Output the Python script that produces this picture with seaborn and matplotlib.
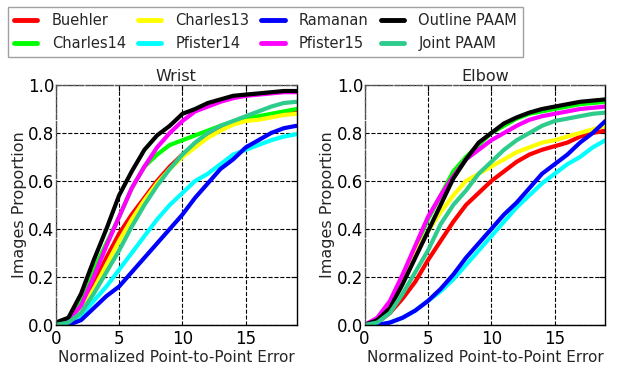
import numpy as np
import pandas as pd
import matplotlib
matplotlib.use("Agg")
import matplotlib.pyplot as plt
import seaborn as sns

# error thresholds (normalized point-to-point error)
error = list(range(20))

methods = [
    "Buehler", "Charles14", "Charles13", "Pfister14",
    "Ramanan", "Pfister15", "Outline PAAM", "Joint PAAM",
]
colors = ["#ff0000", "#00ff00", "#ffff00", "#00ffff",
          "#0000ff", "#ff00ff", "#000000", "#2ecc8c"]

# Wrist curves
wrist_buehler = [0, 0.02, 0.07, 0.17, 0.28, 0.38, 0.46, 0.53, 0.60, 0.66,
                 0.71, 0.75, 0.79, 0.82, 0.84, 0.855, 0.865, 0.875, 0.885, 0.89]
wrist_charles14 = [0, 0.02, 0.10, 0.23, 0.34, 0.45, 0.57, 0.66, 0.71, 0.75,
                   0.77, 0.79, 0.81, 0.83, 0.845, 0.86, 0.87, 0.88, 0.89, 0.90]
wrist_charles13 = [0, 0.01, 0.06, 0.15, 0.25, 0.35, 0.44, 0.52, 0.59, 0.65,
                   0.70, 0.74, 0.78, 0.81, 0.835, 0.85, 0.855, 0.865, 0.875, 0.88]
wrist_pfister14 = [0, 0.005, 0.04, 0.10, 0.16, 0.23, 0.30, 0.37, 0.44, 0.50,
                   0.55, 0.60, 0.63, 0.67, 0.71, 0.73, 0.75, 0.77, 0.785, 0.795]
wrist_ramanan = [0, 0.0, 0.02, 0.07, 0.12, 0.16, 0.22, 0.28, 0.34, 0.40,
                 0.46, 0.53, 0.59, 0.65, 0.69, 0.74, 0.77, 0.80, 0.82, 0.83]
wrist_pfister15 = [0, 0.02, 0.08, 0.20, 0.33, 0.45, 0.57, 0.66, 0.74, 0.80,
                   0.85, 0.89, 0.91, 0.93, 0.945, 0.955, 0.96, 0.965, 0.97, 0.97]
wrist_outline = [0.01, 0.03, 0.13, 0.27, 0.40, 0.54, 0.64, 0.73, 0.79, 0.83,
                 0.88, 0.90, 0.925, 0.94, 0.955, 0.96, 0.965, 0.97, 0.975, 0.975]
wrist_joint = [0, 0.01, 0.05, 0.13, 0.22, 0.31, 0.41, 0.50, 0.58, 0.65,
               0.71, 0.76, 0.80, 0.83, 0.85, 0.87, 0.89, 0.91, 0.925, 0.93]

# Elbow curves
elbow_buehler = [0, 0.01, 0.05, 0.11, 0.18, 0.27, 0.35, 0.43, 0.50, 0.55,
                 0.60, 0.64, 0.68, 0.71, 0.73, 0.745, 0.76, 0.785, 0.80, 0.81]
elbow_charles14 = [0, 0.02, 0.08, 0.20, 0.32, 0.44, 0.54, 0.64, 0.70, 0.75,
                   0.80, 0.83, 0.86, 0.88, 0.89, 0.90, 0.91, 0.92, 0.925, 0.93]
elbow_charles13 = [0, 0.02, 0.08, 0.19, 0.30, 0.39, 0.47, 0.54, 0.60, 0.63,
                   0.66, 0.69, 0.72, 0.74, 0.76, 0.77, 0.785, 0.80, 0.815, 0.83]
elbow_pfister14 = [0, 0, 0.01, 0.03, 0.06, 0.10, 0.14, 0.19, 0.25, 0.31,
                   0.37, 0.43, 0.49, 0.54, 0.59, 0.63, 0.67, 0.70, 0.74, 0.77]
elbow_ramanan = [0, 0.0, 0.01, 0.03, 0.06, 0.10, 0.15, 0.21, 0.28, 0.34,
                 0.40, 0.46, 0.51, 0.57, 0.63, 0.67, 0.71, 0.76, 0.80, 0.85]
elbow_pfister15 = [0, 0.03, 0.10, 0.21, 0.33, 0.45, 0.54, 0.62, 0.69, 0.73,
                   0.77, 0.80, 0.83, 0.855, 0.87, 0.88, 0.89, 0.90, 0.905, 0.91]
elbow_outline = [0, 0.02, 0.07, 0.17, 0.28, 0.39, 0.50, 0.61, 0.69, 0.76,
                 0.80, 0.84, 0.865, 0.885, 0.90, 0.91, 0.92, 0.93, 0.935, 0.94]
elbow_joint = [0, 0.01, 0.05, 0.13, 0.22, 0.31, 0.42, 0.50, 0.56, 0.63,
               0.68, 0.73, 0.77, 0.80, 0.83, 0.85, 0.86, 0.87, 0.88, 0.885]

wrist = [wrist_buehler, wrist_charles14, wrist_charles13, wrist_pfister14,
         wrist_ramanan, wrist_pfister15, wrist_outline, wrist_joint]
elbow = [elbow_buehler, elbow_charles14, elbow_charles13, elbow_pfister14,
         elbow_ramanan, elbow_pfister15, elbow_outline, elbow_joint]


def to_long(curves):
    frames = []
    for name, values in zip(methods, curves):
        frames.append(pd.DataFrame({"error": error, "proportion": values,
                                    "method": name}))
    return pd.concat(frames, ignore_index=True)


sns.set_theme(style="white")
plt.rcParams["font.family"] = ["DejaVu Sans"]

fig = plt.figure(figsize=(6.19, 3.68), dpi=100)
ax_w = fig.add_axes([0.090, 0.117, 0.389, 0.652])
ax_e = fig.add_axes([0.589, 0.117, 0.389, 0.652])

palette = dict(zip(methods, colors))

for ax, curves, title in [(ax_w, wrist, "Wrist"), (ax_e, elbow, "Elbow")]:
    sns.lineplot(
        data=to_long(curves),
        x="error",
        y="proportion",
        hue="method",
        hue_order=methods,
        palette=palette,
        linewidth=3,
        legend=False,
        ax=ax,
    )
    ax.set_xlim(0, 19)
    ax.set_ylim(0, 1.0)
    ax.set_xticks([0, 5, 10, 15])
    ax.set_yticks([0, 0.2, 0.4, 0.6, 0.8, 1.0])
    ax.set_yticklabels(["0.0", "0.2", "0.4", "0.6", "0.8", "1.0"])
    ax.grid(True, color="black", linestyle="--", linewidth=0.8)
    ax.tick_params(direction="in", length=4, width=0.8,
                   labelsize=12, colors="black", top=True, right=True)
    ax.tick_params(axis="x", pad=4)
    ax.tick_params(axis="y", pad=1)
    for side, spine in ax.spines.items():
        spine.set_linewidth(1)
        if side in ("left", "top"):
            # grid line sits on these edges, giving them a dashed look
            spine.set_color("#555555")
            spine.set_linestyle("--")
        else:
            spine.set_color("black")
    ax.set_title(title, fontsize=11.5, pad=3)
    ax.set_xlabel("Normalized Point-to-Point Error", fontsize=11, labelpad=1)
    ax.set_ylabel("Images Proportion", fontsize=11.5, labelpad=1)

handles = [plt.Line2D([0], [0], color=c, linewidth=3.5) for c in colors]
fig.legend(
    handles,
    methods,
    loc="upper left",
    bbox_to_anchor=(0.013, 0.981),
    ncol=4,
    fontsize=10.5,
    frameon=True,
    fancybox=False,
    edgecolor="#888888",
    handlelength=1.6,
    handletextpad=1.0,
    columnspacing=0.8,
    labelspacing=0.55,
    borderpad=0.4,
    borderaxespad=0.0,
)

fig.savefig("out.png", dpi=100)
plt.close(fig)
